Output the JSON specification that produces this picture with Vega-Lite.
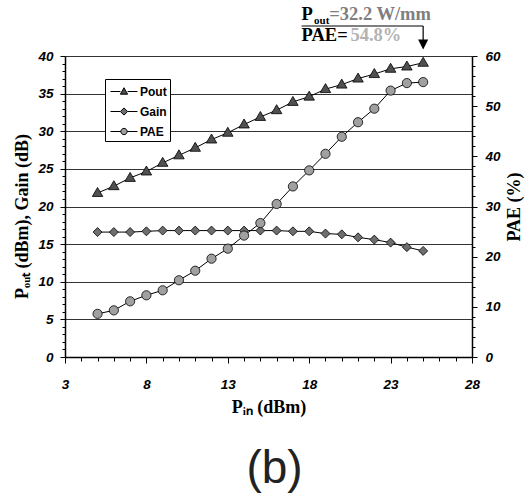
{
  "$schema": "https://vega.github.io/schema/vega-lite/v6.json",
  "width": 407,
  "height": 301,
  "autosize": "none",
  "padding": {"left": 65, "top": 56, "right": 53, "bottom": 142},
  "title": {"text": "(b)", "orient": "bottom", "anchor": "middle", "fontSize": 46, "font": "Liberation Sans", "fontWeight": "normal", "color": "#222222", "offset": 30, "dx": 6},
  "config": {"view": {"stroke": null}},
  "datasets": {
    "main": [
      {"pin": 5, "series": "Pout", "value": 21.8}, {"pin": 6, "series": "Pout", "value": 22.7}, {"pin": 7, "series": "Pout", "value": 23.8},
      {"pin": 8, "series": "Pout", "value": 24.65}, {"pin": 9, "series": "Pout", "value": 25.8}, {"pin": 10, "series": "Pout", "value": 26.8},
      {"pin": 11, "series": "Pout", "value": 27.8}, {"pin": 12, "series": "Pout", "value": 28.9}, {"pin": 13, "series": "Pout", "value": 29.8},
      {"pin": 14, "series": "Pout", "value": 30.9}, {"pin": 15, "series": "Pout", "value": 31.9}, {"pin": 16, "series": "Pout", "value": 32.8},
      {"pin": 17, "series": "Pout", "value": 33.9}, {"pin": 18, "series": "Pout", "value": 34.6}, {"pin": 19, "series": "Pout", "value": 35.6},
      {"pin": 20, "series": "Pout", "value": 36.2}, {"pin": 21, "series": "Pout", "value": 37.0}, {"pin": 22, "series": "Pout", "value": 37.6},
      {"pin": 23, "series": "Pout", "value": 38.3}, {"pin": 24, "series": "Pout", "value": 38.6}, {"pin": 25, "series": "Pout", "value": 39.1},
      {"pin": 5, "series": "Gain", "value": 16.6}, {"pin": 6, "series": "Gain", "value": 16.6}, {"pin": 7, "series": "Gain", "value": 16.6},
      {"pin": 8, "series": "Gain", "value": 16.7}, {"pin": 9, "series": "Gain", "value": 16.8}, {"pin": 10, "series": "Gain", "value": 16.8},
      {"pin": 11, "series": "Gain", "value": 16.8}, {"pin": 12, "series": "Gain", "value": 16.8}, {"pin": 13, "series": "Gain", "value": 16.8},
      {"pin": 14, "series": "Gain", "value": 16.8}, {"pin": 15, "series": "Gain", "value": 16.8}, {"pin": 16, "series": "Gain", "value": 16.8},
      {"pin": 17, "series": "Gain", "value": 16.7}, {"pin": 18, "series": "Gain", "value": 16.7}, {"pin": 19, "series": "Gain", "value": 16.4},
      {"pin": 20, "series": "Gain", "value": 16.3}, {"pin": 21, "series": "Gain", "value": 15.9}, {"pin": 22, "series": "Gain", "value": 15.6},
      {"pin": 23, "series": "Gain", "value": 15.2}, {"pin": 24, "series": "Gain", "value": 14.6}, {"pin": 25, "series": "Gain", "value": 14.1},
      {"pin": 5, "series": "PAE", "value": 8.6}, {"pin": 6, "series": "PAE", "value": 9.3}, {"pin": 7, "series": "PAE", "value": 11.1},
      {"pin": 8, "series": "PAE", "value": 12.3}, {"pin": 9, "series": "PAE", "value": 13.3}, {"pin": 10, "series": "PAE", "value": 15.3},
      {"pin": 11, "series": "PAE", "value": 17.2}, {"pin": 12, "series": "PAE", "value": 19.6}, {"pin": 13, "series": "PAE", "value": 21.6},
      {"pin": 14, "series": "PAE", "value": 24.2}, {"pin": 15, "series": "PAE", "value": 26.7}, {"pin": 16, "series": "PAE", "value": 30.5},
      {"pin": 17, "series": "PAE", "value": 34.0}, {"pin": 18, "series": "PAE", "value": 37.2}, {"pin": 19, "series": "PAE", "value": 40.5},
      {"pin": 20, "series": "PAE", "value": 43.9}, {"pin": 21, "series": "PAE", "value": 46.8}, {"pin": 22, "series": "PAE", "value": 49.5},
      {"pin": 23, "series": "PAE", "value": 53.1}, {"pin": 24, "series": "PAE", "value": 54.6}, {"pin": 25, "series": "PAE", "value": 54.8}
    ]
  },
  "layer": [
    {
      "data": {"name": "main"},
      "encoding": {
        "x": {"field": "pin", "type": "quantitative",
          "scale": {"domain": [3, 28], "nice": false, "zero": false},
          "axis": {
            "values": [3,4,5,6,7,8,9,10,11,12,13,14,15,16,17,18,19,20,21,22,23,24,25,26,27,28],
            "labelExpr": "(datum.value - 3) % 5 === 0 ? datum.label : ''",
            "labelOverlap": false, "labelFlush": false, "grid": false,
            "tickSize": {"condition": {"test": "(datum.value - 3) % 5 === 0", "value": 6}, "value": 4},
            "tickColor": "black", "domainColor": "black", "domainWidth": 1.5,
            "labelFont": "Liberation Sans", "labelFontSize": 13.5, "labelFontWeight": "bold", "labelFontStyle": "italic", "labelColor": "black",
            "labelPadding": 14,
            "title": "Pᵢₙ (dBm)", "titleFont": "Liberation Serif", "titleFontSize": 18, "titleFontWeight": "bold", "titleColor": "black", "titlePadding": 8
          }},
        "y": {"field": "value", "type": "quantitative",
          "scale": {"domain": [0, 40], "nice": false},
          "axis": {
            "orient": "left",
            "values": [0,1,2,3,4,5,6,7,8,9,10,11,12,13,14,15,16,17,18,19,20,21,22,23,24,25,26,27,28,29,30,31,32,33,34,35,36,37,38,39,40],
            "labelExpr": "datum.value % 5 === 0 ? datum.label : ''",
            "labelOverlap": false, "labelFlush": false,
            "grid": true, "gridColor": "#333333", "gridWidth": 1,
            "gridOpacity": {"condition": {"test": "datum.value % 5 === 0", "value": 1}, "value": 0},
            "tickSize": {"condition": {"test": "datum.value % 5 === 0", "value": 5}, "value": 3},
            "tickColor": "black", "domainColor": "black", "domainWidth": 1.5,
            "labelFont": "Liberation Sans", "labelFontSize": 13.5, "labelFontWeight": "bold", "labelFontStyle": "italic", "labelColor": "black",
            "labelPadding": 7,
            "title": "Pₒᵤₜ (dBm), Gain (dB)", "titleFont": "Liberation Serif", "titleFontSize": 18, "titleFontWeight": "bold", "titleColor": "black", "titlePadding": 6, "titleY": 160
          }}
      },
      "layer": [
        {
          "transform": [{"filter": "datum.series !== 'PAE'"}],
          "mark": {"type": "line", "color": "black", "strokeWidth": 1},
          "encoding": {"detail": {"field": "series"}}
        },
        {
          "transform": [{"filter": "datum.series === 'Pout'"}],
          "mark": {"type": "point", "shape": "M0,-1.1L1.05,0.7L-1.05,0.7Z", "filled": true, "fill": "#505050", "stroke": "black", "strokeWidth": 0.8, "size": 100, "opacity": 1}
        },
        {
          "transform": [{"filter": "datum.series === 'Gain'"}],
          "mark": {"type": "point", "shape": "M0,-0.9L0.9,0L0,0.9L-0.9,0Z", "filled": true, "fill": "#6e6e6e", "stroke": "black", "strokeWidth": 0.8, "size": 100, "opacity": 1}
        },
        {
          "transform": [{"filter": "datum.series !== 'PAE'"}],
          "mark": {"type": "point", "filled": true, "stroke": "black", "strokeWidth": 1, "size": 324, "opacity": 0},
          "encoding": {
            "fill": {"field": "series", "type": "nominal",
              "scale": {"domain": ["Pout", "Gain", "PAE"], "range": ["#505050", "#6e6e6e", "#a0a0a0"]},
              "legend": null},
            "shape": {"field": "series", "type": "nominal",
              "scale": {"domain": ["Pout", "Gain", "PAE"], "range": [
                "M-0.78,0H0.32M1.12,0H2.22M0.72,-0.42L1.12,0.3L0.32,0.3Z",
                "M-0.78,0H0.32M1.12,0H2.22M0.72,-0.4L1.12,0L0.72,0.4L0.32,0Z",
                "M-0.78,0H0.37M1.07,0H2.22M0.37,0A0.35,0.35 0 1,0 1.07,0A0.35,0.35 0 1,0 0.37,0Z"
              ]},
              "legend": {
                "title": null, "orient": "none", "legendX": 40, "legendY": 23,
                "strokeColor": "black", "fillColor": "white", "padding": 3,
                "symbolSize": 324, "labelOffset": 13, "rowPadding": 4, "symbolOpacity": 1,
                "labelFont": "Liberation Sans", "labelFontWeight": "bold", "labelFontSize": 12, "labelColor": "black",
                "symbolStrokeColor": "black", "symbolStrokeWidth": 1,
                "symbolFillColor": {"expr": "datum.value === 'Pout' ? '#505050' : datum.value === 'Gain' ? '#6e6e6e' : '#a0a0a0'"}
              }}
          }
        }
      ]
    },
    {
      "data": {"name": "main"},
      "transform": [{"filter": "datum.series === 'PAE'"}],
      "encoding": {
        "x": {"field": "pin", "type": "quantitative", "scale": {"domain": [3, 28], "nice": false, "zero": false}, "axis": null},
        "y": {"field": "value", "type": "quantitative",
          "scale": {"domain": [0, 60], "nice": false},
          "axis": {
            "orient": "right",
            "values": [0,2,4,6,8,10,12,14,16,18,20,22,24,26,28,30,32,34,36,38,40,42,44,46,48,50,52,54,56,58,60],
            "labelExpr": "datum.value % 10 === 0 ? datum.label : ''",
            "labelOverlap": false, "labelFlush": false, "grid": false,
            "tickSize": {"condition": {"test": "datum.value % 10 === 0", "value": 5}, "value": 3},
            "tickColor": "black", "domainColor": "black", "domainWidth": 1.5,
            "labelFont": "Liberation Sans", "labelFontSize": 13.5, "labelFontWeight": "bold", "labelFontStyle": "italic", "labelColor": "black",
            "labelPadding": 8,
            "title": "PAE (%)", "titleFont": "Liberation Serif", "titleFontSize": 18, "titleFontWeight": "bold", "titleColor": "black", "titlePadding": 5, "titleAngle": 270, "titleBaseline": "top"
          }}
      },
      "layer": [
        {"mark": {"type": "line", "color": "black", "strokeWidth": 1}},
        {"mark": {"type": "point", "shape": "circle", "filled": true, "fill": "#a0a0a0", "stroke": "black", "strokeWidth": 0.8, "size": 85, "opacity": 1}}
      ]
    },
    {
      "layer": [
        {
          "data": {"values": [{"a": 17.53, "b": 25}]},
          "mark": {"type": "rule", "color": "black", "strokeWidth": 1.2},
          "encoding": {
            "x": {"field": "a", "type": "quantitative", "scale": {"domain": [3, 28], "nice": false, "zero": false}, "axis": null},
            "x2": {"field": "b"},
            "y": {"datum": 43.99, "type": "quantitative", "scale": {"domain": [0, 40], "nice": false}, "axis": null}
          }
        },
        {
          "data": {"values": [{"a": 25}]},
          "mark": {"type": "rule", "color": "black", "strokeWidth": 1.2},
          "encoding": {
            "x": {"field": "a", "type": "quantitative", "axis": null},
            "y": {"datum": 43.99, "type": "quantitative", "axis": null},
            "y2": {"datum": 42.0}
          }
        },
        {
          "data": {"values": [{"a": 25}]},
          "mark": {"type": "point", "shape": "M-1,-1L1,-1L0,1Z", "filled": true, "color": "black", "size": 100, "opacity": 1},
          "encoding": {
            "x": {"field": "a", "type": "quantitative", "axis": null},
            "y": {"datum": 41.53, "type": "quantitative", "axis": null}
          }
        },
        {
          "data": {"values": [{"t": "P", "a": 17.53}]},
          "mark": {"type": "text", "align": "left", "baseline": "alphabetic", "font": "Liberation Serif", "fontWeight": "bold", "fontSize": 18.5, "color": "black"},
          "encoding": {
            "x": {"field": "a", "type": "quantitative", "axis": null},
            "y": {"datum": 44.76, "type": "quantitative", "axis": null},
            "text": {"field": "t"}
          }
        },
        {
          "data": {"values": [{"t": "out", "a": 18.3}]},
          "mark": {"type": "text", "align": "left", "baseline": "alphabetic", "font": "Liberation Serif", "fontWeight": "bold", "fontSize": 11, "color": "black"},
          "encoding": {
            "x": {"field": "a", "type": "quantitative", "axis": null},
            "y": {"datum": 44.19, "type": "quantitative", "axis": null},
            "text": {"field": "t"}
          }
        },
        {
          "data": {"values": [{"t": "=32.2 W/mm", "a": 19.23}]},
          "mark": {"type": "text", "align": "left", "baseline": "alphabetic", "font": "Liberation Serif", "fontWeight": "bold", "fontSize": 18.5, "color": "#7f7f7f"},
          "encoding": {
            "x": {"field": "a", "type": "quantitative", "axis": null},
            "y": {"datum": 44.76, "type": "quantitative", "axis": null},
            "text": {"field": "t"}
          }
        },
        {
          "data": {"values": [{"t": "PAE=", "a": 17.53}]},
          "mark": {"type": "text", "align": "left", "baseline": "alphabetic", "font": "Liberation Serif", "fontWeight": "bold", "fontSize": 18.5, "color": "black"},
          "encoding": {
            "x": {"field": "a", "type": "quantitative", "axis": null},
            "y": {"datum": 41.97, "type": "quantitative", "axis": null},
            "text": {"field": "t"}
          }
        },
        {
          "data": {"values": [{"t": "54.8%", "a": 20.53}]},
          "mark": {"type": "text", "align": "left", "baseline": "alphabetic", "font": "Liberation Serif", "fontWeight": "bold", "fontSize": 18.5, "color": "#b3b3b3"},
          "encoding": {
            "x": {"field": "a", "type": "quantitative", "axis": null},
            "y": {"datum": 41.97, "type": "quantitative", "axis": null},
            "text": {"field": "t"}
          }
        }
      ]
    }
  ],
  "resolve": {"scale": {"x": "independent", "y": "independent"}}
}
